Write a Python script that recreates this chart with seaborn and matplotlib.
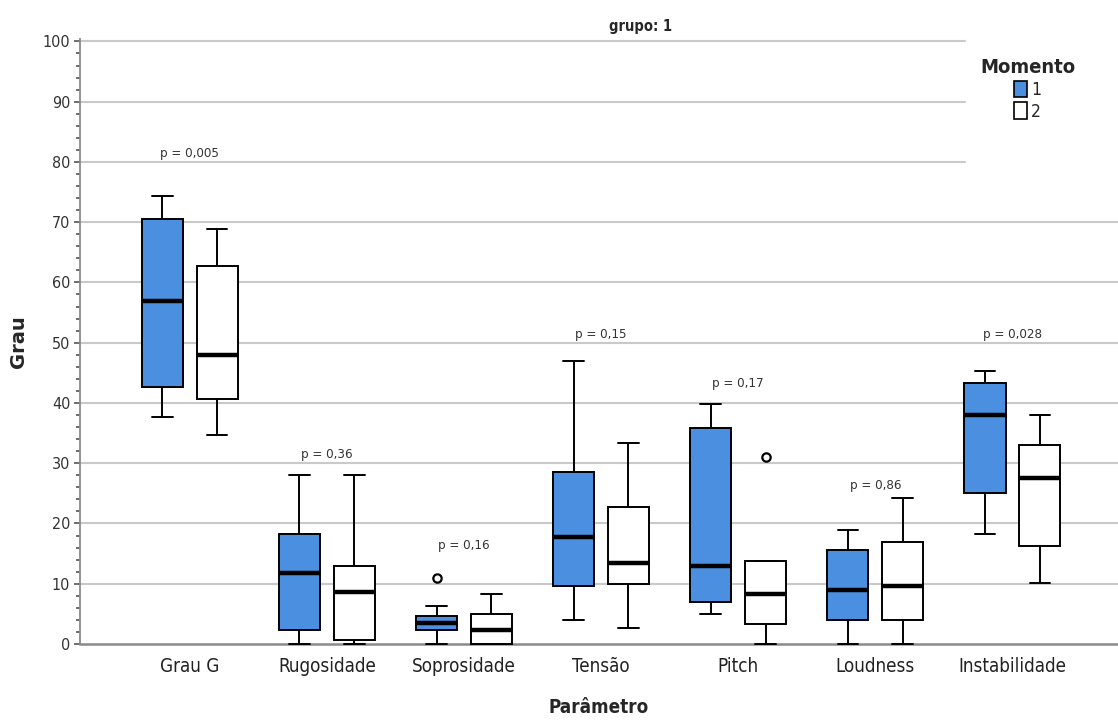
import matplotlib
matplotlib.use("Agg")
import matplotlib.pyplot as plt
from matplotlib.patches import Patch
from matplotlib.ticker import MultipleLocator
import pandas as pd
import seaborn as sns

# ---- data -------------------------------------------------------------
parametros = ["Grau G", "Rugosidade", "Soprosidade", "Tensão", "Pitch",
              "Loudness", "Instabilidade"]
momentos = ["1", "2"]

# box summaries per parameter (whisker low, Q1, median, Q3, whisker high)
m1_low = [37.7, 0.0, 0.0, 4.0, 5.0, 0.0, 18.2]
m1_q1 = [42.7, 2.4, 2.3, 9.6, 7.0, 4.0, 25.0]
m1_med = [56.9, 11.8, 3.5, 17.8, 13.0, 9.0, 38.0]
m1_q3 = [70.6, 18.2, 4.6, 28.6, 35.9, 15.6, 43.3]
m1_high = [74.3, 28.0, 6.3, 46.9, 39.9, 19.0, 45.3]

m2_low = [34.7, 0.0, 0.0, 2.6, 0.0, 0.0, 10.2]
m2_q1 = [40.7, 0.7, 0.0, 10.0, 3.3, 4.0, 16.3]
m2_med = [47.9, 8.6, 2.4, 13.5, 8.3, 9.7, 27.5]
m2_q3 = [62.7, 13.0, 5.0, 22.7, 13.7, 17.0, 33.0]
m2_high = [68.9, 28.0, 8.3, 33.4, 13.7, 24.3, 38.0]

# outlying cases
out_param = ["Soprosidade", "Pitch"]
out_momento = ["1", "2"]
out_value = [11.0, 31.1]

# Wilcoxon p-values shown above each pair, with their height on the axis
p_labels = ["p = 0,005", "p = 0,36", "p = 0,16", "p = 0,15", "p = 0,17",
            "p = 0,86", "p = 0,028"]
p_y = [81.4, 31.5, 16.3, 51.4, 43.3, 26.3, 51.4]

# ---- long table for seaborn -----------------------------------------
rows = []
for mom, stats in (("1", (m1_low, m1_q1, m1_med, m1_q3, m1_high)),
                   ("2", (m2_low, m2_q1, m2_med, m2_q3, m2_high))):
    for i, par in enumerate(parametros):
        for s in stats:
            rows.append({"Parâmetro": par, "Momento": mom, "Grau": s[i]})
df = pd.DataFrame(rows)
df_out = pd.DataFrame({"Parâmetro": out_param, "Momento": out_momento,
                       "Grau": out_value})

# ---- style ---------------------------------------------------------------
sns.set_style("white")
plt.rcParams["font.family"] = ["DejaVu Sans"]
plt.rcParams["font.stretch"] = "condensed"

blue = "#4A8FE0"
palette = {"1": blue, "2": "white"}

fig = plt.figure(figsize=(11.18, 7.25), dpi=100)
ax = fig.add_axes([80 / 1118, (725 - 644) / 725, 1 - 80 / 1118, (644 - 39) / 725])

# horizontal reference lines (upper ones stop short of the legend)
for v in range(10, 101, 10):
    ax.axhline(v, xmin=0, xmax=0.853 if v >= 80 else 1.0,
               color="#c9c9c9", lw=1.5, zorder=0.5)

sns.boxplot(data=df, x="Parâmetro", y="Grau", hue="Momento",
            order=parametros, hue_order=momentos, palette=palette,
            saturation=1, whis=(0, 100), width=0.8, gap=0.25,
            linecolor="black", linewidth=1.4, showfliers=False,
            medianprops=dict(linewidth=3.2, color="black"),
            legend=False, ax=ax, zorder=3)

sns.stripplot(data=df_out, x="Parâmetro", y="Grau", hue="Momento",
              order=parametros, hue_order=momentos,
              palette={"1": "white", "2": "white"}, dodge=True, jitter=False,
              marker="o", size=6, edgecolor="black", linewidth=1.6,
              legend=False, ax=ax, zorder=4)

# let the zero-level whisker caps sit on top of the axis line
for art in ax.lines + ax.patches:
    art.set_clip_on(False)

for i, (lab, y) in enumerate(zip(p_labels, p_y)):
    ax.text(i, y, lab, ha="center", va="center", fontsize=9.5, color="#333333")

# ---- axes ----------------------------------------------------------------
ax.set_xlim(-0.8, 6.77)
ax.set_ylim(0, 100.4)
ax.yaxis.set_major_locator(MultipleLocator(10))
ax.yaxis.set_minor_locator(MultipleLocator(2))
ax.tick_params(axis="y", which="major", length=4, width=1.2, color="#555555",
               labelsize=11.5, labelcolor="#333333", pad=3, left=True)
ax.tick_params(axis="y", which="minor", length=3, width=1.2, color="#555555",
               left=True)
ax.tick_params(axis="x", length=0, labelsize=13.5, labelcolor="#222222", pad=9)

for side in ("top", "right"):
    ax.spines[side].set_visible(False)
ax.spines["left"].set_color("#8a8a8a")
ax.spines["left"].set_linewidth(1.3)
ax.spines["bottom"].set_color("#8a8a8a")
ax.spines["bottom"].set_linewidth(1.8)
ax.spines["bottom"].set_zorder(1)

ax.set_xlabel("Parâmetro", fontsize=13.5, fontweight="bold", labelpad=16)
ax.set_ylabel("Grau", fontsize=14, fontweight="bold", fontstretch="normal")
ax.yaxis.set_label_coords(-0.050, 0.5)

fig.text(641 / 1118, 1 - 27 / 725, "grupo: 1", ha="center", va="center",
         fontsize=10.5, fontweight="bold")

handles = [Patch(facecolor=palette[m], edgecolor="black", linewidth=1.2,
                 label=m) for m in momentos]
leg = fig.legend(handles=handles, title="Momento", loc="upper left",
                 bbox_to_anchor=(968 / 1118, 1 - 46 / 725), frameon=False,
                 fontsize=12.5,
                 title_fontproperties=dict(weight="bold", size=14.5,
                                           stretch="condensed"),
                 handlelength=0.75, handleheight=1.1, handletextpad=0.2,
                 labelspacing=0.2, borderpad=0.2)

fig.savefig("out.png", dpi=100)
